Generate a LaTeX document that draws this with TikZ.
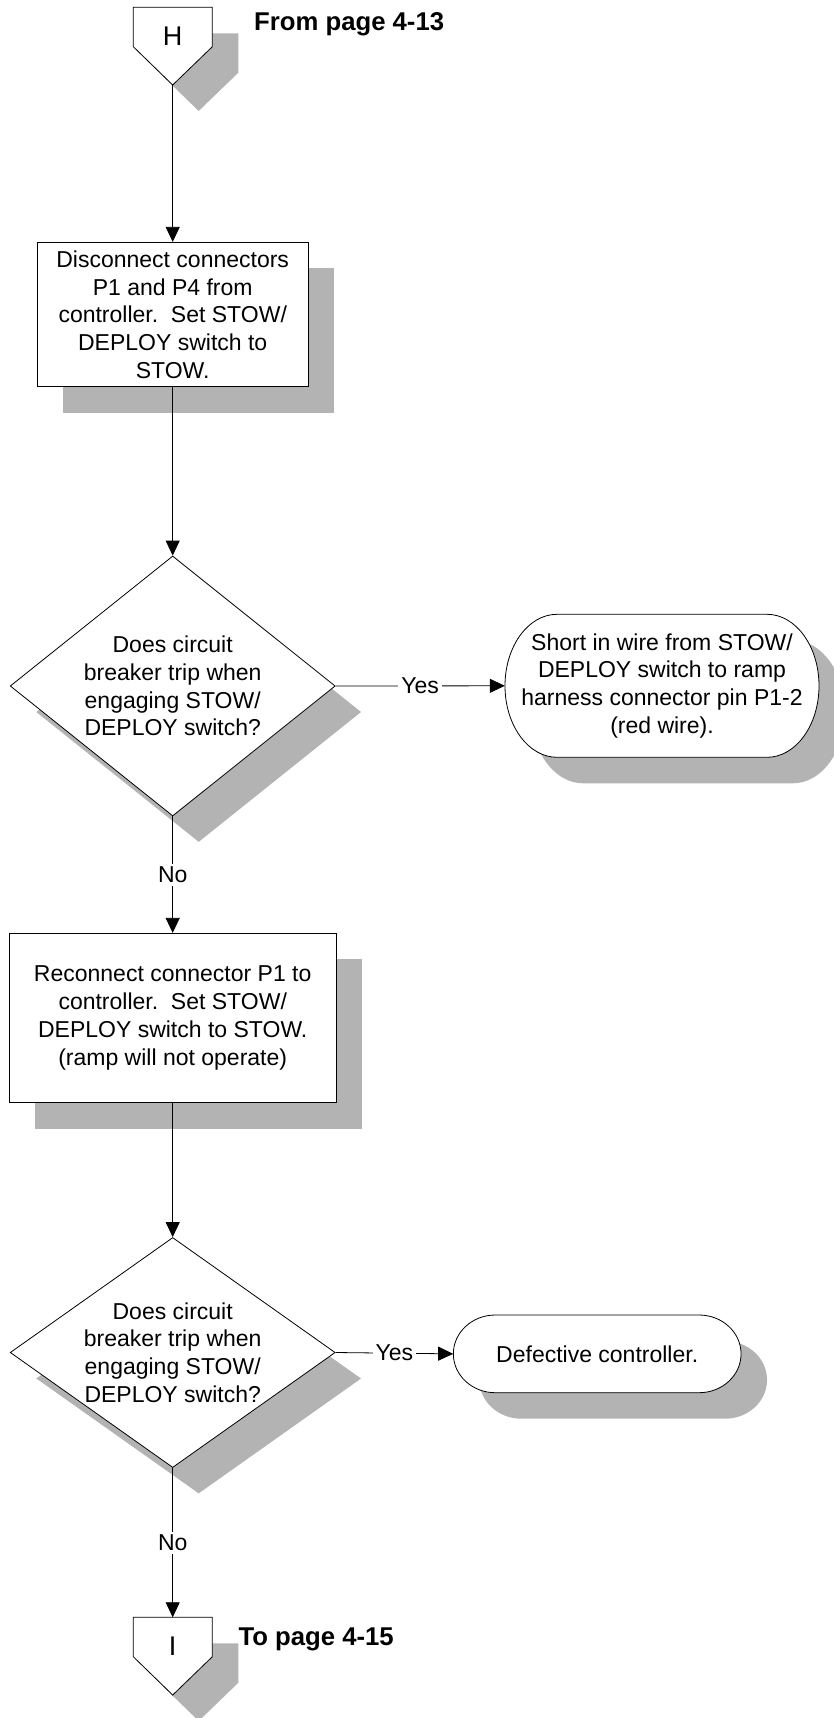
\documentclass[tikz,border=0pt]{standalone}
\usepackage{fontspec}
\setmainfont{Liberation Sans}
\usetikzlibrary{arrows.meta,shapes.geometric,shadows}
\definecolor{shgray}{RGB}{179,179,179}
\begin{document}
\begin{tikzpicture}[x=1pt,y=-1pt,
  txt/.style={font=\fontsize{23}{27.7}\selectfont, align=center, inner sep=0pt},
  shad/.style={drop shadow={shadow xshift=26pt,shadow yshift=-26pt,fill=shgray,draw=none,opacity=1}},
  procbox/.style={txt, rectangle, draw, fill=white, line width=0.8pt, shad},
  decision/.style={txt, diamond, draw, fill=white, line width=0.8pt, shad},
  conn/.style={line width=0.8pt, -{Triangle[length=15pt,width=14pt]}},
  lbl/.style={font=\fontsize{23}{27.7}\selectfont, fill=white, inner sep=3pt},
  pagelbl/.style={font=\fontsize{25.7}{30}\selectfont\bfseries, inner sep=0pt, anchor=base west},
  letter/.style={font=\fontsize{27}{30}\selectfont, inner sep=0pt},
  outline/.style={draw, fill=white, line width=0.8pt}
]
\useasboundingbox (0,0) rectangle (833,1718);

% off-page connector H (shape)
\fill[shgray, shift={(26,26)}] (133.3,7.3) -- (212.3,7.3) -- (212.3,46.7) -- (172.7,85) -- (133.3,46.7) -- cycle;
\path[outline] (133.3,7.3) -- (212.3,7.3) -- (212.3,46.7) -- (172.7,85) -- (133.3,46.7) -- cycle;

% off-page connector I (shape)
\fill[shgray, shift={(26,26)}] (133.3,1617.3) -- (212.3,1617.3) -- (212.3,1656.7) -- (172.7,1695) -- (133.3,1656.7) -- cycle;
\path[outline] (133.3,1617.3) -- (212.3,1617.3) -- (212.3,1656.7) -- (172.7,1695) -- (133.3,1656.7) -- cycle;

% terminator 1 (shape)
\fill[shgray, shift={(26,26)}] (557,614.3) -- (767,614.3) arc[start angle=90,end angle=-90,x radius=52pt,y radius=71.5pt] -- (557,757.3) arc[start angle=270,end angle=90,x radius=52pt,y radius=71.5pt] -- cycle;
\path[outline] (557,614.3) -- (767,614.3) arc[start angle=90,end angle=-90,x radius=52pt,y radius=71.5pt] -- (557,757.3) arc[start angle=270,end angle=90,x radius=52pt,y radius=71.5pt] -- cycle;

% terminator 2 (shape)
\fill[shgray, shift={(26,26)}] (495.35,1315) -- (699.05,1315) arc[start angle=90,end angle=-90,x radius=42pt,y radius=38.85pt] -- (495.35,1392.7) arc[start angle=270,end angle=90,x radius=42pt,y radius=38.85pt] -- cycle;
\path[outline] (495.35,1315) -- (699.05,1315) arc[start angle=90,end angle=-90,x radius=42pt,y radius=38.85pt] -- (495.35,1392.7) arc[start angle=270,end angle=90,x radius=42pt,y radius=38.85pt] -- cycle;

% nodes
\node[letter] (H) at (172.7,36.3) {H};
\coordinate (Htip) at (172.7,85);
\node[pagelbl] (from) at (254,31) {From page 4-13};

\node[procbox, minimum width=271pt, minimum height=144.4pt] (b1) at (172.7,314.5)
  {Disconnect connectors\\P1 and P4 from\\controller.\ \ Set STOW/\\DEPLOY switch to\\STOW.};

\node[decision, aspect=1.25, minimum width=325pt, minimum height=260pt] (d1) at (172.7,686)
  {Does circuit\\breaker trip when\\engaging STOW/\\DEPLOY switch?};

\node[txt, minimum width=314pt, minimum height=143pt] (t1) at (662,685.8)
  {Short in wire from STOW/\\DEPLOY switch to ramp\\harness connector pin P1-2\\(red wire).};

\node[procbox, minimum width=326.7pt, minimum height=169.4pt] (b2) at (172.7,1018)
  {Reconnect connector P1 to\\controller.\ \ Set STOW/\\DEPLOY switch to STOW.\\(ramp will not operate)};

\node[decision, aspect=1.413, minimum width=325pt, minimum height=230pt] (d2) at (172.7,1352.5)
  {Does circuit\\breaker trip when\\engaging STOW/\\DEPLOY switch?};

\node[txt, minimum width=287.7pt, minimum height=77.7pt] (t2) at (597.2,1353.85)
  {Defective controller.};

\coordinate (Itop) at (172.7,1617.3);
\node[letter] (I) at (172.7,1646) {I};
\node[pagelbl] (to) at (238.3,1645) {To page 4-15};

% connectors
\draw[conn] (Htip) -- (b1.north);
\draw[conn] (b1.south) -- (d1.north);
\draw[conn] (d1.east) -- node[lbl]{Yes} (t1.west);
\draw[conn] (d1.south) -- node[lbl]{No} (b2.north);
\draw[conn] (b2.south) -- (d2.north);
\draw[conn] (d2.east) -- node[lbl]{Yes} (t2.west);
\draw[conn] (d2.south) -- node[lbl]{No} (Itop);
\end{tikzpicture}
\end{document}
